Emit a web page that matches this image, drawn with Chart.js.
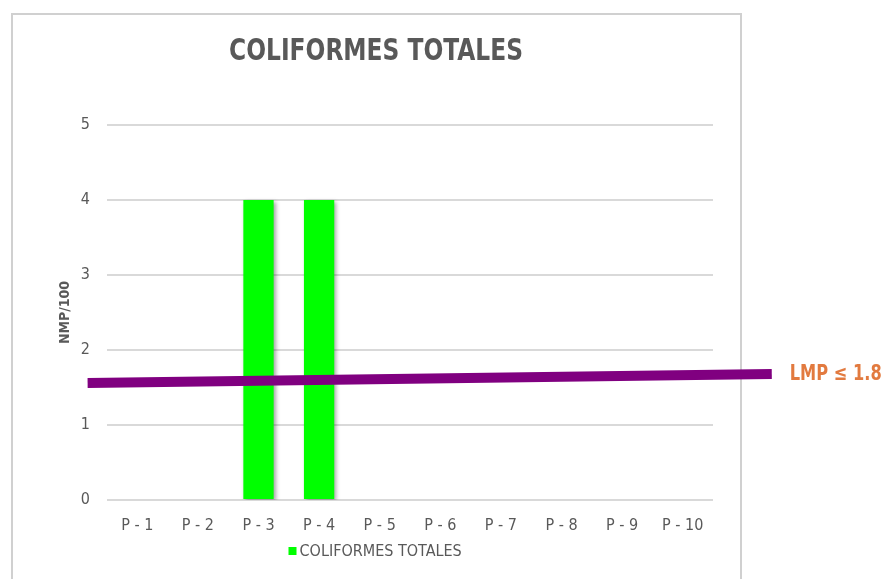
<!DOCTYPE html>
<html>
<head>
<meta charset="utf-8">
<script src="https://cdn.jsdelivr.net/npm/chart.js@4/dist/chart.umd.min.js"></script>
<style>
  html, body { margin: 0; padding: 0; background: #fff; }
  #wrap { position: relative; width: 886px; height: 579px; overflow: hidden; }
  #frame { position: absolute; left: 11px; top: 13px; width: 727px; height: 600px; border: 2px solid #d0d0d0; }
  #c { position: absolute; left: 0; top: 0; }
</style>
</head>
<body>
<div id="wrap">
  <div id="frame"></div>
  <canvas id="c" width="886" height="579"></canvas>
</div>
<script>
// Sample points and results
const puntos = ["P - 1", "P - 2", "P - 3", "P - 4", "P - 5", "P - 6", "P - 7", "P - 8", "P - 9", "P - 10"]
const coliformes = [0, 0, 4, 4, 0, 0, 0, 0, 0, 0]

// Limit line (a bit tilted in the original), x in sample index units
const lmpX = [-0.82, 10.47]
const lmpY = [1.56, 1.68]
const lmpLabel = "LMP \u2264 1.8"

const chartTitle = "COLIFORMES TOTALES"
const yTitle = "NMP/100"
const yTicks = [0, 1, 2, 3, 4, 5]

const FONT = "'Liberation Sans Narrow', 'DejaVu Sans Condensed', sans-serif"
const GRAY = "#595959"

// Shadow behind the bars
const barShadow = {
  id: "barShadow",
  beforeDatasetDraw(chart, args) {
    if (args.meta.type !== "bar") return
    const ctx = chart.ctx
    ctx.save()
    ctx.shadowColor = "rgba(0,0,0,0.35)"
    ctx.shadowBlur = 4
    ctx.shadowOffsetX = 2
    ctx.shadowOffsetY = 2
  },
  afterDatasetDraw(chart, args) {
    if (args.meta.type !== "bar") return
    chart.ctx.restore()
  },
}

// draw text squeezed to a given width (narrow font look)
function squeezed(ctx, text, x, y, width, align) {
  const w = ctx.measureText(text).width
  const k = Math.min(1, width / w)
  ctx.save()
  ctx.translate(x, y)
  ctx.scale(k, 1)
  ctx.textAlign = align
  ctx.fillText(text, 0, 0)
  ctx.restore()
}

// Title, legend and limit label
const decorations = {
  id: "decorations",
  afterDraw(chart) {
    const ctx = chart.ctx
    ctx.save()
    ctx.textBaseline = "middle"

    // title, centred on the frame
    ctx.fillStyle = GRAY
    ctx.font = "bold 30px " + FONT
    squeezed(ctx, chartTitle, 376, 52, 294, "center")

    // legend
    const bar = chart.data.datasets[1]
    const box = 8
    const tw = 170
    const lx = 379 - (box + 3 + tw) / 2
    const ly = 551
    ctx.fillStyle = bar.backgroundColor
    ctx.fillRect(lx, ly - box / 2, box, box)
    ctx.fillStyle = GRAY
    ctx.font = "16px " + FONT
    squeezed(ctx, bar.label, lx + box + 3, ly + 1, tw, "left")

    // limit label at the end of the line
    const pts = chart.getDatasetMeta(0).data
    const end = pts[pts.length - 1]
    ctx.fillStyle = "#E27A3F"
    ctx.font = "bold 21px " + FONT
    squeezed(ctx, lmpLabel, end.x + 18, end.y + 1, 92, "left")

    ctx.restore()
  },
}

new Chart(document.getElementById("c"), {
  type: "bar",
  data: {
    datasets: [
      {
        type: "line",
        label: lmpLabel,
        data: lmpX.map((x, i) => ({ x: x, y: lmpY[i] })),
        borderColor: "#800080",
        borderWidth: 10,
        pointRadius: 0,
        borderCapStyle: "butt",
        clip: false,
        order: 0,
      },
      {
        label: chartTitle,
        data: coliformes.map((v, i) => ({ x: i, y: v })),
        backgroundColor: "#00FF00",
        borderWidth: 0,
        grouped: false,
        barPercentage: 0.5,
        categoryPercentage: 1,
        order: 1,
      },
    ],
  },
  options: {
    responsive: false,
    animation: false,
    layout: { padding: { left: 50, right: 173, top: 125, bottom: 0 } },
    plugins: {
      legend: { display: false },
      title: { display: false },
      tooltip: { enabled: false },
    },
    scales: {
      x: {
        type: "linear",
        min: -0.5,
        max: 9.5,
        offset: false,
        afterBuildTicks(scale) { scale.ticks = puntos.map((p, i) => ({ value: i })) },
        grid: { display: false, drawTicks: false },
        border: { display: false },
        ticks: {
          color: GRAY,
          font: { family: FONT, size: 16 },
          padding: 16,
          maxRotation: 0,
          autoSkip: false,
          callback: (v) => puntos[v],
        },
        afterFit(scale) { scale.height = 79 },
      },
      y: {
        min: 0,
        max: 5,
        afterBuildTicks(scale) { scale.ticks = yTicks.map((v) => ({ value: v })) },
        grid: { color: "#d9d9d9", lineWidth: 2, drawTicks: false },
        border: { display: false },
        ticks: { color: GRAY, font: { family: FONT, size: 16 }, padding: 17 },
        title: {
          display: true,
          text: yTitle,
          color: GRAY,
          font: { family: FONT, size: 14, weight: "bold" },
          padding: { top: 7, bottom: 0 },
        },
        afterFit(scale) { scale.width = 57 },
      },
    },
  },
  plugins: [barShadow, decorations],
})
</script>
</body>
</html>
